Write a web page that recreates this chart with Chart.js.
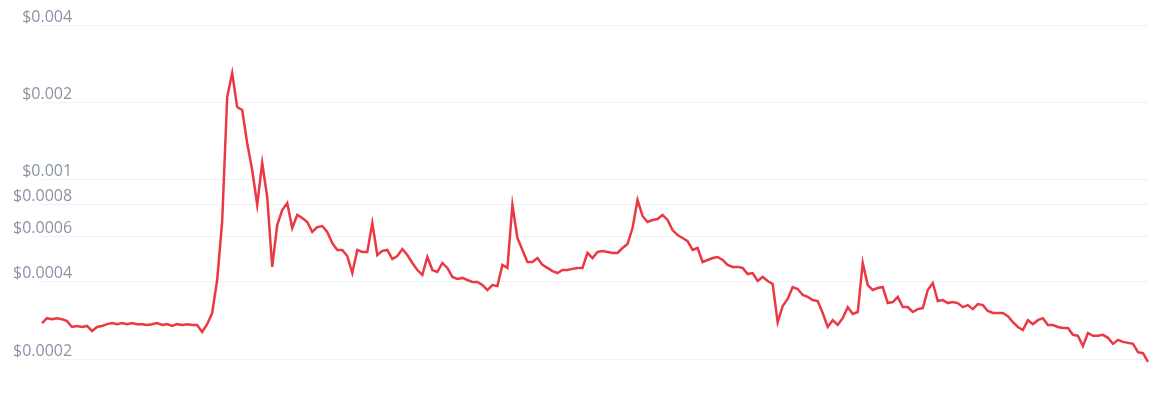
<!DOCTYPE html>
<html>
<head>
<meta charset="utf-8">
<script src="https://cdn.jsdelivr.net/npm/chart.js@4/dist/chart.umd.min.js"></script>
<style>
  html, body { margin: 0; padding: 0; background: #ffffff; }
  #wrap { width: 1157px; height: 412px; position: relative; }
</style>
</head>
<body>
<div id="wrap"><canvas id="c"></canvas></div>
<script>
// Price series (USD), left to right
const prices = [
  0.0002765, 0.0002891, 0.0002865, 0.0002891, 0.0002865, 0.0002815, 0.0002672, 0.0002696, 0.0002672, 0.0002696,
  0.0002577, 0.0002672, 0.0002696, 0.000274, 0.0002765, 0.000274, 0.0002765, 0.000274, 0.0002765, 0.000274,
  0.000274, 0.000272, 0.000274, 0.0002765, 0.000272, 0.000274, 0.0002696, 0.000274, 0.000272, 0.000274,
  0.000272, 0.000272, 0.0002554, 0.000274, 0.0003027, 0.000407, 0.0006846, 0.002097, 0.002601, 0.001917,
  0.001867, 0.001389, 0.00109, 0.000797, 0.001161, 0.0008565, 0.0004577, 0.000666, 0.000762, 0.0008109,
  0.0006483, 0.000729, 0.0007096, 0.0006846, 0.0006257, 0.0006542, 0.0006601, 0.0006257, 0.0005665, 0.000533,
  0.000533, 0.0005045, 0.0004332, 0.000533, 0.0005235, 0.0005235, 0.0006785, 0.000509, 0.0005282, 0.000533,
  0.0004911, 0.0005045, 0.0005374, 0.000509, 0.0004741, 0.000445, 0.000426, 0.0005, 0.000445, 0.0004371,
  0.0004741, 0.0004536, 0.0004184, 0.000411, 0.0004147, 0.000407, 0.0003998, 0.0003998, 0.000389, 0.000372,
  0.000389, 0.0003855, 0.000466, 0.0004536, 0.000797, 0.0005928, 0.000533, 0.0004783, 0.0004783, 0.0004955,
  0.000466, 0.0004536, 0.000441, 0.0004332, 0.000445, 0.000445, 0.0004496, 0.0004536, 0.0004536, 0.0005188,
  0.0004955, 0.0005235, 0.0005282, 0.0005235, 0.0005188, 0.0005188, 0.0005422, 0.0005615, 0.0006483, 0.000833,
  0.0007225, 0.0006846, 0.000697, 0.0007033, 0.000729, 0.000697, 0.000637, 0.000609, 0.0005928, 0.0005768,
  0.000533, 0.0005422, 0.0004783, 0.000487, 0.0004955, 0.0005, 0.000487, 0.000466, 0.0004577, 0.0004577,
  0.0004536, 0.0004293, 0.0004332, 0.0004034, 0.0004184, 0.0004034, 0.0003927, 0.000279, 0.0003221, 0.0003435,
  0.0003821, 0.0003753, 0.000356, 0.0003497, 0.00034, 0.000337, 0.0003027, 0.0002672, 0.000284, 0.000272,
  0.0002891, 0.0003192, 0.0003, 0.0003055, 0.0004741, 0.000389, 0.000372, 0.0003787, 0.0003821, 0.000331,
  0.000334, 0.0003497, 0.0003192, 0.0003192, 0.0003055, 0.0003135, 0.0003164, 0.000372, 0.0003962, 0.000337,
  0.00034, 0.000331, 0.000334, 0.000331, 0.0003192, 0.000325, 0.0003135, 0.000328, 0.000325, 0.0003082,
  0.0003027, 0.0003027, 0.0003027, 0.0002943, 0.000279, 0.0002672, 0.00026, 0.000284, 0.000274, 0.000284,
  0.0002891, 0.000272, 0.000272, 0.0002672, 0.0002648, 0.0002648, 0.000249, 0.0002468, 0.000225, 0.0002531,
  0.0002468, 0.0002468, 0.000249, 0.0002424, 0.0002296, 0.000238, 0.0002338, 0.0002317, 0.0002296, 0.0002131,
  0.0002112, 0.0001955
];

// Categories: one per sample (the time axis carries no labels in the reference)
const categories = prices.map((_, i) => String(i));

// Y axis ticks (log scale) and their labels
const tickValues = [0.0002, 0.0004, 0.0006, 0.0008, 0.001, 0.002, 0.004];
const tickLabels = ['$0.0002', '$0.0004', '$0.0006', '$0.0008', '$0.001', '$0.002', '$0.004'];
const yMin = 0.00019;
const yMax = 0.004;

new Chart(document.getElementById('c'), {
  type: 'line',
  data: {
    labels: categories,
    datasets: [{
      data: prices,
      borderColor: '#ea3943',
      borderWidth: 2.5,
      pointRadius: 0,
      pointHoverRadius: 0,
      tension: 0,
      fill: false
    }]
  },
  options: {
    responsive: true,
    maintainAspectRatio: false,
    animation: false,
    layout: { padding: { left: 42, right: 9, top: 25, bottom: 47 } },
    plugins: { legend: { display: false }, tooltip: { enabled: false } },
    scales: {
      x: { display: false },
      y: {
        type: 'logarithmic',
        min: yMin,
        max: yMax,
        border: { display: false },
        grid: { color: '#eff2f5', lineWidth: 1, drawTicks: false },
        afterBuildTicks: (scale) => { scale.ticks = tickValues.map(v => ({ value: v })); },
        afterFit: (scale) => {
          scale.width = 0;
          scale.paddingTop = 0;
          scale.paddingBottom = 0;
        },
        ticks: {
          autoSkip: false,
          mirror: true,
          crossAlign: 'far',
          padding: -29,
          labelOffset: -8,
          color: '#8a93a6',
          font: { family: '"Open Sans", sans-serif', size: 16 },
          callback: (value) => {
            const k = tickValues.findIndex(t => Math.abs(t - value) < 1e-9);
            return k >= 0 ? tickLabels[k] : '';
          }
        }
      }
    }
  }
});
</script>
</body>
</html>
